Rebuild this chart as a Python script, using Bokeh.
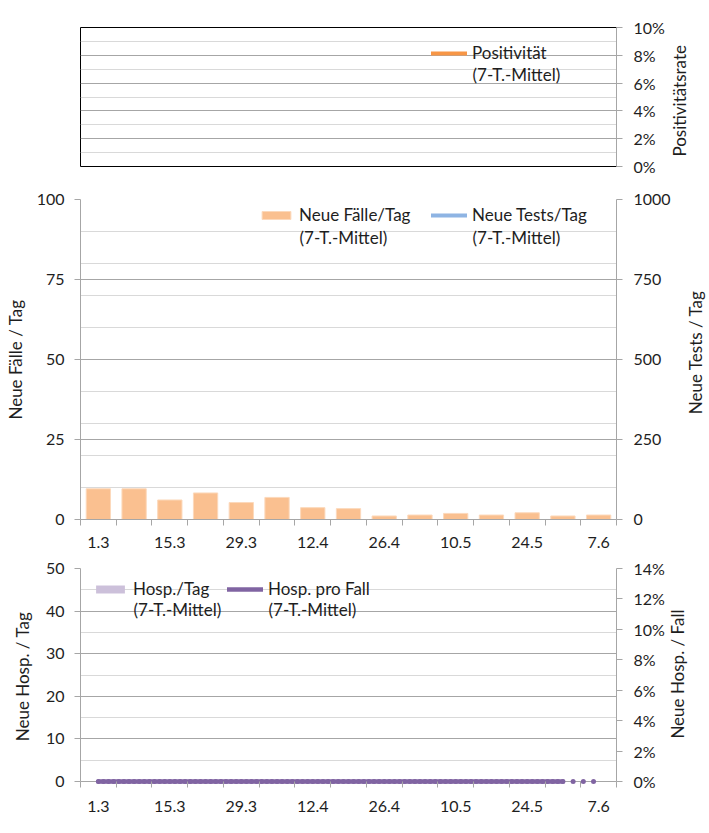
import math
from datetime import datetime, timedelta

from bokeh.plotting import figure
from bokeh.models import (Range1d, LinearAxis, FixedTicker, NumeralTickFormatter,
                          Legend, LegendItem, Label)
from bokeh.core.properties import value
from bokeh.layouts import column, row
from bokeh.embed import file_html
from bokeh.resources import INLINE

# ---------------- data ----------------
JAHR = 2020
wochen = ["1.3", "8.3", "15.3", "22.3", "29.3", "5.4", "12.4", "19.4",
          "26.4", "3.5", "10.5", "17.5", "24.5", "31.5", "7.6"]
beschriftete_wochen = ["1.3", "15.3", "29.3", "12.4", "26.4", "10.5", "24.5", "7.6"]

# Neue Fälle/Tag (7-T.-Mittel), one bar per week
neue_faelle = [9.6, 9.6, 6.1, 8.3, 5.3, 6.9, 3.7, 3.4, 1.1, 1.4, 1.9, 1.4, 2.1, 1.1, 1.4]
# Neue Tests/Tag (7-T.-Mittel): no values shown
neue_tests = [None, None, None, None, None, None, None, None,
              None, None, None, None, None, None, None]
# Positivität (7-T.-Mittel): no values shown
positivitaet = [None, None, None, None, None, None, None, None,
                None, None, None, None, None, None, None]
# Hosp./Tag (7-T.-Mittel), per week: all zero
hosp_pro_tag = [0, 0, 0, 0, 0, 0, 0, 0, 0, 0, 0, 0, 0, 0, 0]
# Hosp. pro Fall (7-T.-Mittel), daily from 1.3; None = no value
hosp_pro_fall = [
    0, 0, 0, 0, 0, 0, 0, 0, 0, 0, 0, 0, 0, 0, 0, 0, 0, 0, 0, 0, 0, 0, 0,
    0, 0, 0, 0, 0, 0, 0, 0, 0, 0, 0, 0, 0, 0, 0, 0, 0, 0, 0, 0, 0, 0, 0,
    0, 0, 0, 0, 0, 0, 0, 0, 0, 0, 0, 0, 0, 0, 0, 0, 0, 0, 0, 0, 0, 0, 0,
    0, 0, 0, 0, 0, 0, 0, 0, 0, 0, 0, 0, 0, 0, 0, 0, 0, 0, 0, 0, 0, 0, 0,
    None, 0, None, 0, None, 0,
]

# ---------------- style ----------------
FONT = "Lato"
FS_TICK = "16px"
FS = "17px"
TXT = "#1e1e1e"
AXC = "#A6A6A6"
GRID_DARK = "#A6A6A6"
GRID_LIGHT = "#D9D9D9"
ORANGE_BAR = "#FAC090"
ORANGE_LINE = "#F79646"
BLUE_LINE = "#8EB4E3"
LAVENDER = "#CCC0DA"
PURPLE = "#8064A2"

FRAME_W = 536
MB_LEFT = 80
TOTAL_W = 706          # width of chart + side title strip


def to_dt(s):
    d, m = s.split(".")
    return datetime(JAHR, int(m), int(d))


def ms(dt):
    return (dt - datetime(1970, 1, 1)).total_seconds() * 1000.0


def nan(v):
    return float("nan") if v is None else v


woche_dt = [to_dt(w) for w in wochen]
HALB = timedelta(days=3.5)
x_start = woche_dt[0] - HALB
x_end = woche_dt[-1] + HALB
tag_dt = [woche_dt[0] + timedelta(days=i) for i in range(len(hosp_pro_fall))]
hpf_y = [nan(v) for v in hosp_pro_fall]
hpf_pts_x = [d for d, v in zip(tag_dt, hosp_pro_fall) if v is not None]
hpf_pts_y = [v for v in hosp_pro_fall if v is not None]

BAR_W = 0.68 * 7 * 86400000


def style_y(ax, title, title_standoff, label_standoff):
    ax.axis_label = title
    ax.axis_label_text_font = FONT
    ax.axis_label_text_font_size = FS
    ax.axis_label_text_font_style = "normal"
    ax.axis_label_text_color = TXT
    ax.axis_label_standoff = title_standoff
    ax.major_label_text_font = FONT
    ax.major_label_text_font_size = FS_TICK
    ax.major_label_text_color = TXT
    ax.major_label_standoff = label_standoff
    ax.axis_line_color = AXC
    ax.major_tick_line_color = AXC
    ax.major_tick_out = 6
    ax.major_tick_in = 0
    ax.minor_tick_line_color = None


def style_x(ax, standoff=11):
    ax.ticker = FixedTicker(
        ticks=[ms(to_dt(w)) for w in beschriftete_wochen],
        minor_ticks=[ms(d - HALB) for d in woche_dt] + [ms(x_end)],
    )
    ax.major_label_overrides = {ms(to_dt(w)): w for w in beschriftete_wochen}
    ax.major_label_text_font = FONT
    ax.major_label_text_font_size = FS_TICK
    ax.major_label_text_color = TXT
    ax.major_label_standoff = standoff
    ax.axis_line_color = AXC
    ax.major_tick_line_color = None
    ax.major_tick_out = 6
    ax.major_tick_in = 0
    ax.minor_tick_line_color = AXC
    ax.minor_tick_out = 6
    ax.minor_tick_in = 0


def make_fig(frame_h, mb_top, mb_bottom, mb_right, y_range, y_loc, x_loc):
    p = figure(frame_width=FRAME_W, frame_height=frame_h,
               x_axis_type="datetime", x_range=Range1d(x_start, x_end),
               y_range=y_range, y_axis_location=y_loc, x_axis_location=x_loc,
               min_border_left=MB_LEFT, min_border_right=mb_right,
               min_border_top=mb_top, min_border_bottom=mb_bottom,
               output_backend="svg", toolbar_location=None)
    p.xgrid.visible = False
    p.ygrid.grid_line_color = GRID_DARK
    p.ygrid.minor_grid_line_color = GRID_LIGHT
    p.outline_line_color = None
    p.background_fill_color = "white"
    p.border_fill_color = "white"
    return p


def title_strip(height, strip_w, text, x_center, y_center_from_top):
    """narrow strip right of a chart holding its right axis title (reads bottom-to-top)"""
    t = figure(width=strip_w, height=height, min_border=0,
               x_range=Range1d(0, strip_w), y_range=Range1d(0, height),
               x_axis_location=None, y_axis_location=None,
               output_backend="svg", toolbar_location=None)
    t.grid.visible = False
    t.outline_line_color = None
    t.background_fill_color = "white"
    t.border_fill_color = "white"
    t.text(x=[x_center], y=[height - y_center_from_top], text=[text],
           angle=math.pi / 2, text_align="center", text_baseline="middle",
           text_font=value(FONT), text_font_size=FS, text_color=TXT)
    return t


def make_legend(p, items, x, y, label_width):
    leg = Legend(items=[LegendItem(label=l, renderers=[r]) for l, r in items],
                 location=(x, y), orientation="horizontal",
                 glyph_width=36, glyph_height=10, label_standoff=5, spacing=8,
                 padding=0, margin=0, label_width=label_width, label_height=20,
                 label_text_font=FONT, label_text_font_size=FS,
                 label_text_color=TXT, label_text_baseline="middle",
                 border_line_color=None, background_fill_alpha=0)
    p.add_layout(leg, "center")


def second_line(p, x, y):
    p.add_layout(Label(x=x, y=y, x_units="screen", y_units="screen",
                       text="(7-T.-Mittel)", text_baseline="middle",
                       text_font=FONT, text_font_size=FS, text_color=TXT))


# ---------------- top: Positivität ----------------
R1 = 51
p1 = make_fig(139, 27, 17, R1, Range1d(0, 0.10), "right", None)
p1.outline_line_color = "black"
p1.outline_line_width = 1
p1.yaxis.ticker = FixedTicker(ticks=[0, 0.02, 0.04, 0.06, 0.08, 0.10])
p1.yaxis.formatter = NumeralTickFormatter(format="0%")
style_y(p1.yaxis[0], "", 0, 11)
p1.ygrid.ticker = FixedTicker(ticks=[0, 0.02, 0.04, 0.06, 0.08, 0.10],
                              minor_ticks=[0.01, 0.03, 0.05, 0.07, 0.09])
r_pos = p1.line(x=woche_dt, y=[nan(v) for v in positivitaet],
                line_color=ORANGE_LINE, line_width=4, line_cap="round")
make_legend(p1, [("Positivität", r_pos)], 351, 103, 60)
second_line(p1, 392, 92)
W1 = TOTAL_W - (MB_LEFT + FRAME_W + R1)
t1 = title_strip(27 + 139 + 17, W1, "Positivitätsrate", 12, 96.5)

# ---------------- middle: Fälle / Tests ----------------
R2 = 56
p2 = make_fig(320, 16, 33, R2, Range1d(0, 100), "left", "below")
p2.extra_y_ranges = {"tests": Range1d(0, 1000)}
p2.yaxis.ticker = FixedTicker(ticks=[0, 25, 50, 75, 100])
style_y(p2.yaxis[0], "Neue Fälle / Tag", 8, 10)
ax_r2 = LinearAxis(y_range_name="tests", ticker=FixedTicker(ticks=[0, 250, 500, 750, 1000]))
style_y(ax_r2, "", 0, 11)
p2.add_layout(ax_r2, "right")
p2.ygrid.ticker = FixedTicker(ticks=[0, 25, 50, 75, 100],
                              minor_ticks=[10, 20, 30, 40, 60, 70, 80, 90])
style_x(p2.xaxis[0])
r_faelle = p2.vbar(x=woche_dt, top=neue_faelle, width=BAR_W,
                   fill_color=ORANGE_BAR, line_color="#FCD9BC", line_width=1)
r_tests = p2.line(x=woche_dt, y=[nan(v) for v in neue_tests], y_range_name="tests",
                  line_color=BLUE_LINE, line_width=4, line_cap="round")
make_legend(p2, [("Neue Fälle/Tag", r_faelle), ("Neue Tests/Tag", r_tests)], 178, 294, 124)
second_line(p2, 219, 282)
second_line(p2, 392, 282)
W2 = TOTAL_W - (MB_LEFT + FRAME_W + R2)
t2 = title_strip(16 + 320 + 33, W2, "Neue Tests / Tag", 22, 176)

# ---------------- bottom: Hospitalisierungen ----------------
# frame reaches 3 px below the zero line so the zero-valued line is not clipped
R3 = 51
FH3 = 216
PAD = 3
left_max, right_max = 50, 0.14
p3 = make_fig(FH3, 16, 36, R3,
              Range1d(-left_max * PAD / (FH3 - PAD), left_max), "left", "below")
p3.extra_y_ranges = {"fall": Range1d(-right_max * PAD / (FH3 - PAD), right_max)}
p3.yaxis.ticker = FixedTicker(ticks=[0, 10, 20, 30, 40, 50])
style_y(p3.yaxis[0], "Neue Hosp. / Tag", 10, 10)
p3.yaxis.bounds = (0, left_max)
ax_r3 = LinearAxis(y_range_name="fall", bounds=(0, right_max),
                   ticker=FixedTicker(ticks=[0, 0.02, 0.04, 0.06, 0.08, 0.10, 0.12, 0.14]),
                   formatter=NumeralTickFormatter(format="0%"))
style_y(ax_r3, "", 0, 11)
p3.add_layout(ax_r3, "right")
p3.ygrid.ticker = FixedTicker(ticks=[0, 10, 20, 30, 40, 50],
                              minor_ticks=[5, 15, 25, 35, 45])
style_x(p3.xaxis[0], standoff=10)
p3.xaxis.axis_line_color = None
p3.xaxis.minor_tick_in = PAD
p3.xaxis.minor_tick_out = 6 - PAD
r_hosp = p3.vbar(x=woche_dt, top=hosp_pro_tag, width=BAR_W,
                 fill_color=LAVENDER, line_color=None)
r_hpf = p3.line(x=tag_dt, y=hpf_y, y_range_name="fall",
                line_color=PURPLE, line_width=4.5, line_cap="round")
p3.scatter(x=hpf_pts_x, y=hpf_pts_y, y_range_name="fall", marker="circle",
           size=5, fill_color=PURPLE, line_color=None)
make_legend(p3, [("Hosp./Tag", r_hosp), ("Hosp. pro Fall", r_hpf)], 12, 185, 86)
second_line(p3, 53, 175.5)
second_line(p3, 188, 175.5)
W3 = TOTAL_W - (MB_LEFT + FRAME_W + R3)
t3 = title_strip(16 + FH3 + 36, W3, "Neue Hosp. / Fall", 10, 131)

layout = column(row(p1, t1), row(p2, t2), row(p3, t3))
open("out.html", "w").write(file_html(layout, INLINE))
